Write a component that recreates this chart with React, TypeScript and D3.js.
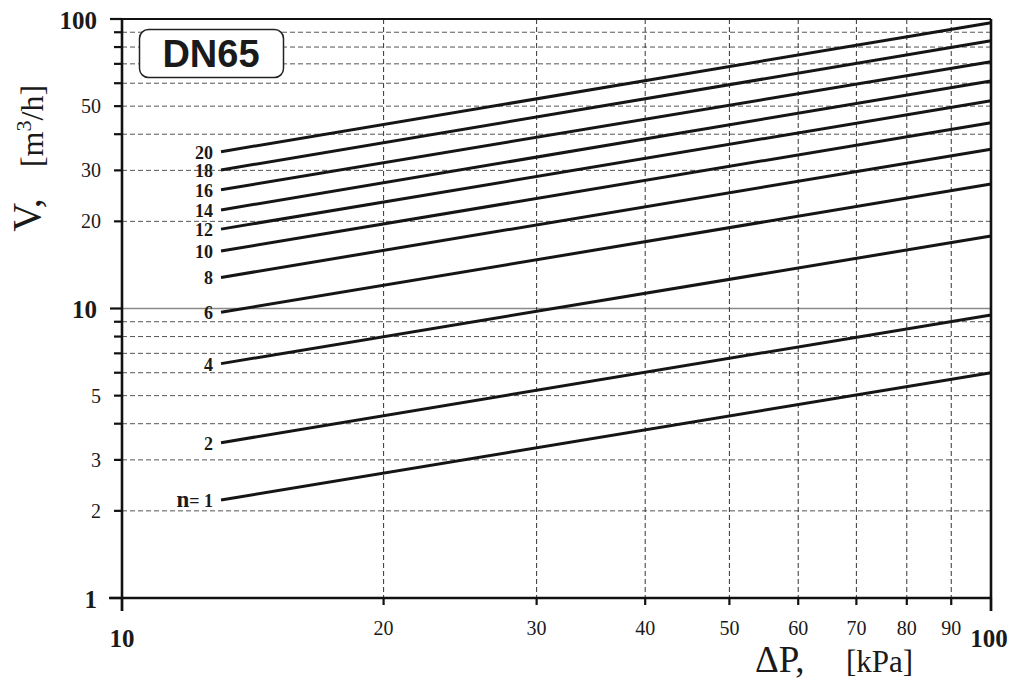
import React from "react";
import * as d3 from "d3";

// ---- data ----
const curveLabels = ["1", "2", "4", "6", "8", "10", "12", "14", "16", "18", "20"];
const dpStart = 13; // kPa, where each curve begins
const dpEnd = 100; // kPa, where each curve ends
const vAtStart = [2.18, 3.44, 6.45, 9.7, 12.8, 15.8, 18.8, 21.9, 25.7, 30.1, 34.8];
const vAtEnd = [6.0, 9.5, 17.8, 26.9, 35.5, 43.8, 52.2, 61.1, 71.2, 84.1, 97.1];

const xTicks = [10, 20, 30, 40, 50, 60, 70, 80, 90, 100];
const xTickLabels = ["10", "20", "30", "40", "50", "60", "70", "80", "90", "100"];
const xMajor = [10, 100];

const yTicks = [1, 2, 3, 4, 5, 6, 7, 8, 9, 10, 20, 30, 40, 50, 60, 70, 80, 90, 100];
const yLabelled = [1, 2, 3, 5, 10, 20, 30, 50, 100];
const yMajor = [1, 10, 100];

const title = "DN65";

const W = 1016;
const H = 683;
const L = 122, R = 991, T = 19, B = 598;

export default function App() {
  const x = d3.scaleLog().domain([10, 100]).range([L, R]);
  const y = d3.scaleLog().domain([1, 100]).range([B, T]);
  const serif = "'Liberation Serif', 'DejaVu Serif', serif";
  const sans = "'Liberation Sans', Arial, sans-serif";
  const line = d3
    .line<[number, number]>()
    .x((d) => x(d[0]))
    .y((d) => y(d[1]));

  return (
    <svg
      width={W}
      height={H}
      viewBox={`0 0 ${W} ${H}`}
      style={{ position: "absolute", left: 0, top: 0, background: "#fff" }}
    >
      <rect x={0} y={0} width={W} height={H} fill="#fff" />
      {/* horizontal grid */}
      {yTicks
        .filter((v) => v !== 1 && v !== 100)
        .map((v) =>
          v === 10 ? (
            <line key={"hg" + v} x1={L} x2={R} y1={y(v)} y2={y(v)} stroke="#8a8a8a" strokeWidth={1.6} />
          ) : (
            <line
              key={"hg" + v}
              x1={L}
              x2={R}
              y1={y(v)}
              y2={y(v)}
              stroke="#555"
              strokeWidth={1}
              strokeDasharray="5,3"
            />
          )
        )}
      {/* vertical grid */}
      {xTicks
        .filter((v) => v !== 10 && v !== 100)
        .map((v) => (
          <line
            key={"vg" + v}
            x1={x(v)}
            x2={x(v)}
            y1={T}
            y2={B}
            stroke="#333"
            strokeWidth={1}
            strokeDasharray="5,3"
          />
        ))}

      {/* curves */}
      {curveLabels.map((lab, i) => (
        <path
          key={"c" + lab}
          d={line([
            [dpStart, vAtStart[i]],
            [dpEnd, vAtEnd[i]],
          ]) as string}
          fill="none"
          stroke="#151515"
          strokeWidth={3}
        />
      ))}

      {/* curve labels */}
      {curveLabels.map((lab, i) => {
        const ly = y(vAtStart[i]) + 7;
        const lx = x(dpStart) - 8;
        if (i === 0) {
          return (
            <text key={"l" + lab} x={lx} y={ly} textAnchor="end" fontFamily={serif} fontWeight="bold" fill="#1a1a1a">
              <tspan fontSize={23}>n</tspan>
              <tspan fontSize={18}>= {lab}</tspan>
            </text>
          );
        }
        return (
          <text
            key={"l" + lab}
            x={lx}
            y={ly}
            textAnchor="end"
            fontFamily={serif}
            fontWeight="bold"
            fontSize={18}
            fill="#1a1a1a"
          >
            {lab}
          </text>
        );
      })}

      {/* axes frame */}
      <line x1={L} x2={R} y1={T} y2={T} stroke="#111" strokeWidth={2.2} />
      <line x1={R} x2={R} y1={T} y2={611} stroke="#111" strokeWidth={2.6} />
      <line x1={109} x2={R} y1={B} y2={B} stroke="#111" strokeWidth={2.6} />
      <line x1={L} x2={L} y1={T} y2={611} stroke="#111" strokeWidth={2.6} />

      {/* y ticks */}
      {yTicks.map((v) => (
        <line
          key={"yt" + v}
          x1={yMajor.includes(v) ? 110 : 114}
          x2={L}
          y1={y(v)}
          y2={y(v)}
          stroke="#111"
          strokeWidth={2.2}
        />
      ))}
      {/* x ticks */}
      {xTicks.map((v) => (
        <line
          key={"xt" + v}
          x1={x(v)}
          x2={x(v)}
          y1={B}
          y2={xMajor.includes(v) ? 611 : 605}
          stroke="#111"
          strokeWidth={2.2}
        />
      ))}

      {/* y tick labels */}
      {yLabelled.map((v) => {
        const major = yMajor.includes(v);
        return (
          <text
            key={"yl" + v}
            x={major ? 97 : 101}
            y={y(v) + (major ? 9.5 : 7)}
            textAnchor="end"
            fontFamily={serif}
            fontWeight={major ? "bold" : "normal"}
            fontSize={major ? 25 : 20}
            fill="#1a1a1a"
          >
            {String(v)}
          </text>
        );
      })}

      {/* x tick labels */}
      {xTicks.map((v, i) => {
        const major = xMajor.includes(v);
        return (
          <text
            key={"xl" + v}
            x={x(v) - (v === 100 ? 2 : 0)}
            y={major ? 647 : 635}
            textAnchor="middle"
            fontFamily={serif}
            fontWeight={major ? "bold" : "normal"}
            fontSize={major ? 25 : 20}
            fill="#1a1a1a"
          >
            {xTickLabels[i]}
          </text>
        );
      })}

      {/* axis titles */}
      <text x={755} y={672} fontFamily={serif} fontSize={37} fill="#1a1a1a">
        ΔP,
      </text>
      <text x={846} y={672} fontFamily={serif} fontSize={31} fill="#1a1a1a">
        [kPa]
      </text>
      <text
        transform="translate(40,215) rotate(-90)"
        textAnchor="middle"
        fontFamily={serif}
        fontSize={40}
        fill="#1a1a1a"
      >
        V,
      </text>
      <text
        transform="translate(43,126) rotate(-90)"
        textAnchor="middle"
        fontFamily={serif}
        fontSize={32}
        fill="#1a1a1a"
      >
        [m<tspan fontSize={22} dy={-12}>3</tspan>
        <tspan dy={12}>/h]</tspan>
      </text>

      {/* title box */}
      <rect x={139.5} y={29.5} width={144} height={48} rx={9} ry={9} fill="#fff" stroke="#222" strokeWidth={1.5} />
      <text x={211} y={66.5} textAnchor="middle" fontFamily={sans} fontWeight="bold" fontSize={38} fill="#1a1a1a">
        {title}
      </text>
    </svg>
  );
}
